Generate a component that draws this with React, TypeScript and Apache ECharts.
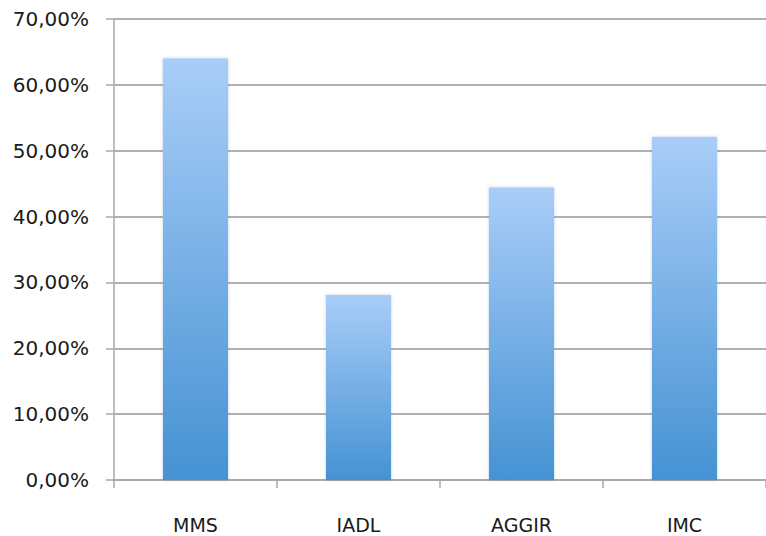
import React, { useEffect, useRef } from "react";
import * as echarts from "echarts";

const categories = ["MMS", "IADL", "AGGIR", "IMC"];
const values = [64.0, 28.1, 44.4, 52.1];
const yTicks = { min: 0, max: 70, interval: 10 };

const fmtPercent = (v: number) => v.toFixed(2).replace(".", ",") + "%";

export default function App() {
  const ref = useRef<HTMLDivElement>(null);

  useEffect(() => {
    if (!ref.current) return;
    const chart = echarts.init(ref.current, undefined, { renderer: "svg" });
    chart.setOption({
      animation: false,
      backgroundColor: "#ffffff",
      grid: { left: 114, right: -5, top: 19, bottom: 56, containLabel: false },
      xAxis: {
        type: "category",
        data: categories,
        boundaryGap: true,
        axisLine: { show: true, lineStyle: { color: "#a8a8a8", width: 1.5 } },
        axisTick: { show: true, length: 8, lineStyle: { color: "#a8a8a8", width: 1.5 } },
        axisLabel: {
          margin: 35,
          color: "#1a1a1a",
          fontFamily: "DejaVu Sans",
          fontSize: 19,
        },
        splitLine: { show: false },
      },
      yAxis: {
        type: "value",
        min: yTicks.min,
        max: yTicks.max,
        interval: yTicks.interval,
        axisLine: { show: true, lineStyle: { color: "#a8a8a8", width: 1.5 } },
        axisTick: { show: true, length: 8, lineStyle: { color: "#a8a8a8", width: 1.5 } },
        axisLabel: {
          margin: 25,
          color: "#1a1a1a",
          fontFamily: "DejaVu Sans",
          fontSize: 20,
          formatter: (v: number) => fmtPercent(v),
        },
        splitLine: { show: true, lineStyle: { color: "#b0b0b0", width: 1.8 } },
      },
      series: [
        {
          type: "bar",
          data: values,
          barWidth: 65,
          itemStyle: {
            color: new echarts.graphic.LinearGradient(0, 0, 0, 1, [
              { offset: 0, color: "#a9cdf8" },
              { offset: 1, color: "#4592d3" },
            ]),
            shadowColor: "rgba(60,110,170,0.35)",
            shadowBlur: 3,
          },
        },
      ],
    });
    return () => chart.dispose();
  }, []);

  return (
    <div
      ref={ref}
      style={{ position: "absolute", left: 0, top: 0, width: 766, height: 536 }}
    />
  );
}
